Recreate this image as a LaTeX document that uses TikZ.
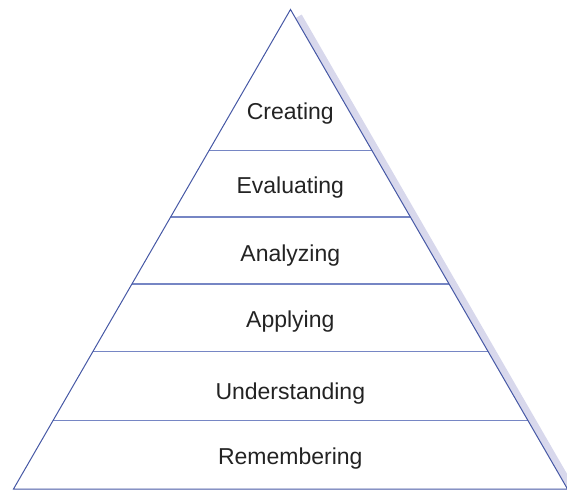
\documentclass[tikz,border=0pt]{standalone}
\usepackage{fontspec}
\setmainfont{Liberation Sans}
\usetikzlibrary{calc}
\definecolor{edgeblue}{RGB}{70,88,165}
\definecolor{divblue}{RGB}{118,134,196}
\definecolor{shadowc}{RGB}{216,216,236}
\definecolor{txt}{RGB}{35,35,35}
\tikzset{
  level/.style={anchor=base, text=txt, font=\fontsize{23}{27}\selectfont, inner sep=0pt},
  edge/.style={draw=edgeblue, line width=1pt, line join=miter},
  divider/.style={draw=divblue, line width=1.3pt},
  shade/.style={fill=shadowc, draw=none}
}
\begin{document}
\begin{tikzpicture}[x=1pt,y=1pt]
\useasboundingbox (0,0) rectangle (567,491);
\coordinate (A) at (290.5,481.5);
\coordinate (BL) at (13.5,2);
\coordinate (BR) at (567.5,2);
% shadow strip along the right edge
\coordinate (S1) at ($(A)!0.018!(BR)$);
\coordinate (S2) at ($(A)!1.03!(BR)$);
\fill[shade] (S1) -- ($(S1)+(6.2,3.6)$) -- ($(S2)+(6.2,3.6)$) -- (S2) -- cycle;
% dividers
\foreach \t [count=\i] in {0.2941,0.4327,0.5725,0.7137,0.8576}{
  \coordinate (L\i) at ($(A)!\t!(BL)$);
  \coordinate (R\i) at ($(A)!\t!(BR)$);
  \draw[divider] (L\i) -- (R\i);
}
% outline
\draw[edge] (A) -- (BR) -- (BL) -- cycle;
% labels
\node[level] (creating) at (290.3,371) {Creating};
\node[level] (evaluating) at (290.3,298) {Evaluating};
\node[level] (analyzing) at (290.3,229.3) {Analyzing};
\node[level] (applying) at (290.3,163.7) {Applying};
\node[level] (understanding) at (290.3,92) {Understanding};
\node[level] (remembering) at (290.3,27) {Remembering};
\end{tikzpicture}
\end{document}
